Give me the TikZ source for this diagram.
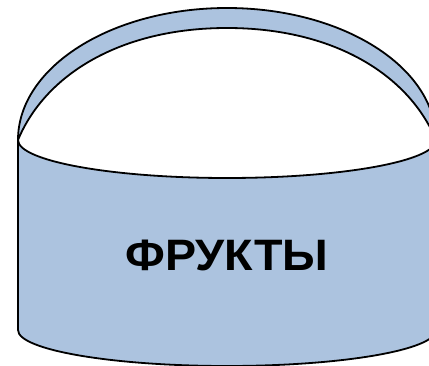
\documentclass[tikz,border=0pt]{standalone}
\usepackage{fontspec}
\newfontfamily\labelfont{Liberation Sans}
\definecolor{basketblue}{RGB}{172,195,223}
\tikzset{
  shapeline/.style={draw=black, line width=1.8pt, fill=basketblue, line join=round},
}
\begin{document}
\begin{tikzpicture}[x=1pt,y=1pt]
\useasboundingbox (0,0) rectangle (429,365);
\clip (0,0) rectangle (429,365);
\fill[white] (0,0) rectangle (429,365);
% handle band
\path[shapeline] (18,225) arc[start angle=180, end angle=0, x radius=209, y radius=132]
  .. controls (409,290) and (334,337) .. (227,337)
  .. controls (120,337) and (45,290) .. (18,225) -- cycle;
% body
\path[shapeline] (18,225) -- (18,35) arc[start angle=180, end angle=360, x radius=209, y radius=36]
  -- (436,225) arc[start angle=0, end angle=-180, x radius=209, y radius=38] -- cycle;
\node[font=\labelfont\bfseries\fontsize{44}{50}\selectfont, inner sep=0pt] (label) at (227,110) {\scalebox{1.06}[1]{ФРУКТЫ}};
\end{tikzpicture}
\end{document}
